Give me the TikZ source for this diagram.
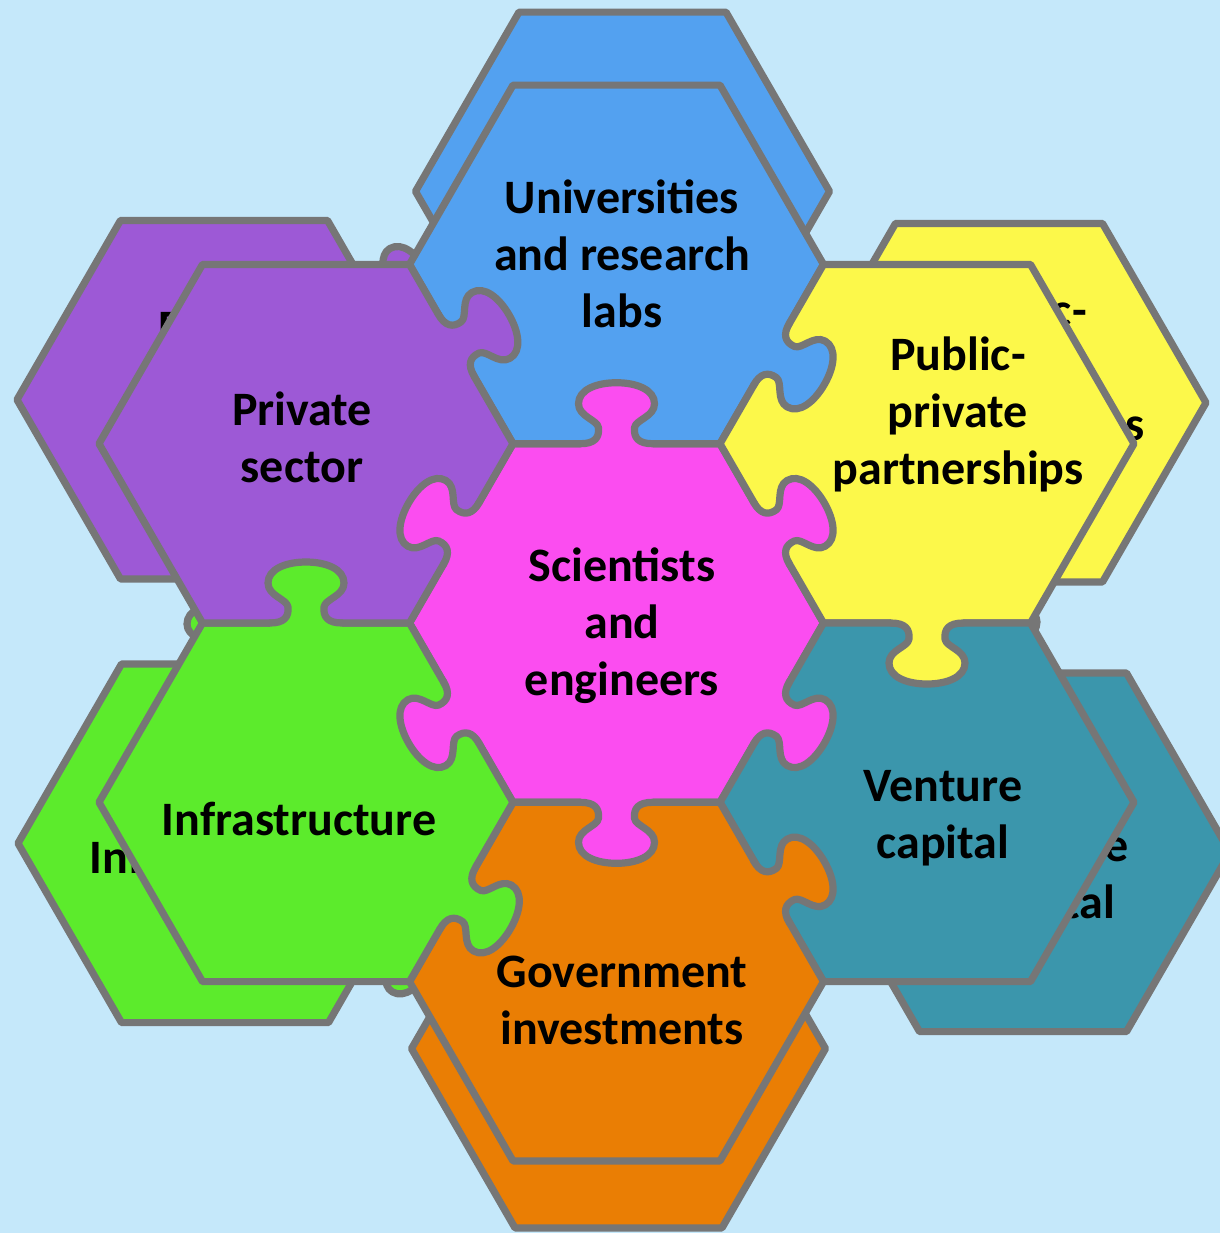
\documentclass[tikz,border=0pt]{standalone}
\usepackage{fontspec}
\setmainfont{Carlito}
\definecolor{bgblue}{HTML}{C5E8FA}
\definecolor{cblue}{HTML}{53A1F0}
\definecolor{cpurple}{HTML}{9D59D6}
\definecolor{cyellow}{HTML}{FCF84A}
\definecolor{cmag}{HTML}{FB4DF0}
\definecolor{cgreen}{HTML}{5CEB2C}
\definecolor{corange}{HTML}{EA7E04}
\definecolor{cteal}{HTML}{3B96AC}
\definecolor{edgegray}{HTML}{767676}
\newcommand{\myhex}[3]{%
  \path[#1] ({#2+207},{#3}) -- ({#2+103.5},{#3-179.3}) -- ({#2-103.5},{#3-179.3}) -- ({#2-207},{#3}) -- ({#2-103.5},{#3+179.3}) -- ({#2+103.5},{#3+179.3}) -- cycle;}
\newcommand{\myknob}[4]{%
  \begin{scope}[shift={(#2,#3)},rotate={#4-90}]
    \fill[#1] (-36,9) -- (-36,0) .. controls (-22,0) and (-17,-6) .. (-18,-16) .. controls (-19,-24) and (-38,-27) .. (-38,-40) .. controls (-38,-54) and (-20,-61) .. (0,-61) .. controls (20,-61) and (38,-54) .. (38,-40) .. controls (38,-27) and (19,-24) .. (18,-16) .. controls (17,-6) and (22,0) .. (36,0) -- (36,9) -- cycle;
    \draw[outline] (-36,0) .. controls (-22,0) and (-17,-6) .. (-18,-16) .. controls (-19,-24) and (-38,-27) .. (-38,-40) .. controls (-38,-54) and (-20,-61) .. (0,-61) .. controls (20,-61) and (38,-54) .. (38,-40) .. controls (38,-27) and (19,-24) .. (18,-16) .. controls (17,-6) and (22,0) .. (36,0);
  \end{scope}}
\begin{document}
\begin{tikzpicture}[x=0.5pt,y=-0.5pt,
  outline/.style={draw=edgegray,line width=3.6pt,line join=round,line cap=round},
  lbl/.style={font=\bfseries\fontsize{24}{28.5}\selectfont,align=center,text=black,inner sep=0pt}]
\useasboundingbox (0,0) rectangle (1220,1233);
\fill[bgblue] (0,0) rectangle (1220,1233);
\clip (0,0) rectangle (1220,1233);
% ---------- back pieces ----------
\begin{scope}[shift={(6,-73)}]\myhex{fill=cblue,outline}{616.5}{264.4}\end{scope}
\begin{scope}[shift={(72,-41)}]\myhex{fill=cyellow,outline}{927}{443.7}\end{scope}
\begin{scope}[shift={(96,50)}]\myhex{fill=cteal,outline}{927}{802.3}\end{scope}
\begin{scope}[shift={(2,67)}]\myhex{fill=corange,outline}{616.5}{981.6}\end{scope}
\begin{scope}[shift={(-81,41)}]\myhex{fill=cgreen,outline}{306}{802.3}\end{scope}
\begin{scope}[shift={(-82,-44)}]\myhex{fill=cpurple,outline}{306}{443.7}\end{scope}
\myknob{cblue}{777.5}{281}{-30}
\myknob{cyellow}{999}{582}{-90}
\myknob{corange}{773.5}{959}{30}
\myknob{cgreen}{225}{664}{90}
\myknob{cgreen}{376.75}{939}{-30}
\myknob{cpurple}{374.25}{301.4}{30}
\node[lbl] (bpurple) at (228,355) {Private\\sector};
\node[lbl] (byellow) at (1019,370) {Public-\\private\\partnerships};
\node[lbl] (bteal) at (1049,878) {Venture\\capital};
\node[lbl] (bgreen) at (227,857) {Infrastructure};
% ---------- front pieces ----------
\myhex{fill=cmag,outline}{616.5}{623}
\myhex{fill=cblue,outline}{616.5}{264.4}
\myhex{fill=cyellow,outline}{927}{443.7}
\myhex{fill=cteal,outline}{927}{802.3}
\myhex{fill=corange,outline}{616.5}{981.6}
\myhex{fill=cgreen,outline}{306}{802.3}
\myhex{fill=cpurple,outline}{306}{443.7}
% ring knobs
\myknob{cgreen}{306}{623}{90}
\myknob{cyellow}{927}{623}{-90}
\myknob{cpurple}{456.25}{345.4}{30}
\myknob{cblue}{771.5}{354}{-30}
\myknob{cgreen}{457.75}{898}{-30}
\myknob{corange}{771.5}{892}{30}
% centre knobs
\myknob{cmag}{616.5}{443.7}{90}
\myknob{cmag}{771.5}{533.35}{30}
\myknob{cmag}{771.5}{712.65}{-30}
\myknob{cmag}{616.5}{802.3}{-90}
\myknob{cmag}{461.5}{712.65}{210}
\myknob{cmag}{461.5}{533.35}{150}
% ---------- labels ----------
\node[lbl] (tcenter) at (622,626) {Scientists\\and\\engineers};
\node[lbl] (tblue) at (622,254) {Universities\\and research\\labs};
\node[lbl] (tpurple) at (302,437) {Private\\sector};
\node[lbl] (tyellow) at (958,414) {Public-\\private\\partnerships};
\node[lbl] (tteal) at (943,818) {Venture\\capital};
\node[lbl] (torange) at (622,1000) {Government\\investments};
\node[lbl] (tgreen) at (299,819) {Infrastructure};
\end{tikzpicture}
\end{document}
